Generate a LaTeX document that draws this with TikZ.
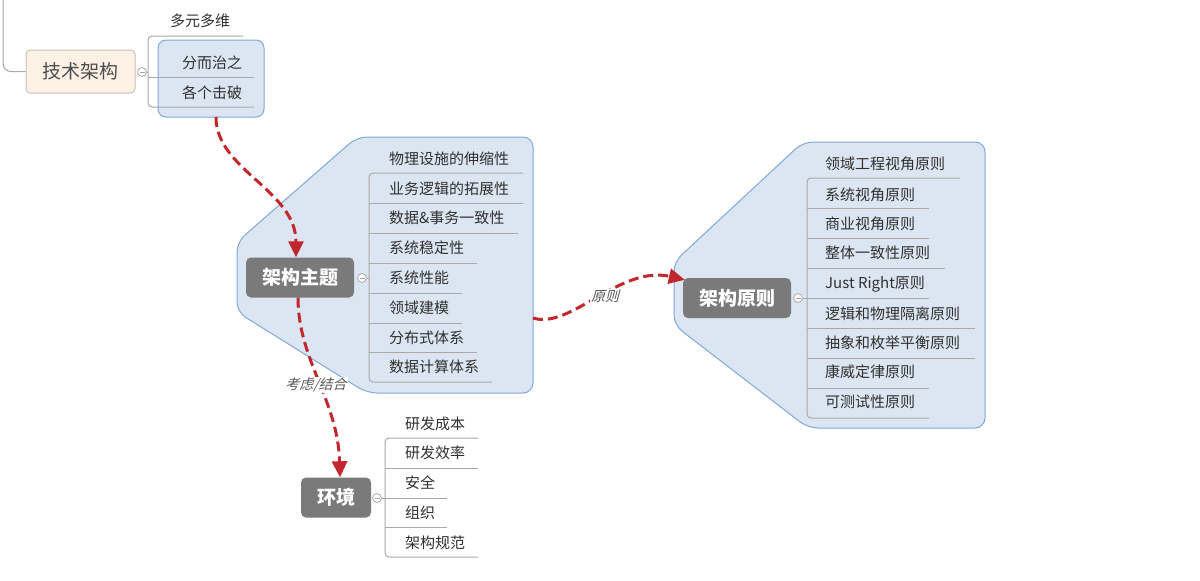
\documentclass[tikz,border=0pt]{standalone}
\usepackage{fontspec}
\setmainfont{Noto Sans CJK SC}
\newfontfamily\slantcjk[FakeSlant=0.25]{Noto Sans CJK SC}
\usetikzlibrary{arrows.meta}
\definecolor{bfill}{HTML}{DCE6F2}
\definecolor{bdraw}{HTML}{80A8D8}
\definecolor{lgray}{HTML}{A8A8A8}
\definecolor{ngray}{HTML}{7A7A7A}
\definecolor{relc}{HTML}{C1272D}
\definecolor{pfill}{HTML}{FDF1E6}
\definecolor{pdraw}{HTML}{CBBFB3}
\definecolor{txt}{HTML}{303030}
\begin{document}
\begin{tikzpicture}[x=1pt,y=-1pt,
 item/.style={anchor=west, inner sep=0pt, text=txt, font=\fontsize{15}{15}\selectfont},
 topic/.style={rounded corners=5pt, fill=ngray, text=white, font=\fontsize{19}{19}\selectfont\bfseries, minimum height=40pt, minimum width=108pt, inner sep=0pt},
 branch/.style={draw=lgray, line width=1pt},
 boundary/.style={fill=bfill, draw=bdraw, line width=1pt, rounded corners=10pt},
 collapse/.style={circle, draw=lgray, fill=white, minimum size=9pt, inner sep=0pt, line width=0.8pt,
   path picture={\draw[lgray, line width=0.8pt] ([xshift=-2.5pt]path picture bounding box.center) -- ([xshift=2.5pt]path picture bounding box.center);}},
 rel/.style={draw=relc, line width=3pt, dash pattern=on 10pt off 5pt, -{Triangle[length=16pt,width=15pt]}},
 rlabel/.style={font=\slantcjk\fontsize{14}{14}\selectfont, text=black!65, fill=white, inner sep=1pt}]
\useasboundingbox (0,0) rectangle (1200,581);
\fill[white] (0,0) rectangle (1200,581);

% boundaries
\draw[boundary, rounded corners=8pt] (158,40) rectangle (264,117);
\draw[boundary] (357,137) -- (533,137) -- (533,393) -- (367,393) -- (237,312) -- (237,242) -- cycle;
\draw[boundary] (803,142) -- (985,142) -- (985,428) -- (808,428) -- (674,325) -- (674,262) -- cycle;

% ---------- 技术架构 ----------
\coordinate (src) at (3,0);
\node[rounded corners=4pt, fill=pfill, draw=pdraw, line width=1pt, text=black!70,
  font=\fontsize{19}{19}\selectfont, minimum width=109pt, minimum height=43pt, inner sep=0pt] (t0) at (80.5,71.5) {技术架构};
\draw[branch, rounded corners=8pt] (src) |- (t0.west);
\node[collapse] (c0) at (142,72) {};
\draw[branch, rounded corners=4pt] (243,36) -- (148,36) -- (148,107) -- (254,107);
\draw[branch] (148,77) -- (254,77);
\draw[branch] (c0) -- (148,72);
\node[item] (a1) at (170,21) {多元多维};
\node[item] (a2) at (182,63) {分而治之};
\node[item] (a3) at (182,93) {各个击破};

% ---------- 架构主题 ----------
\node[topic] (t1) at (300,277.5) {架构主题};
\node[collapse] (c1) at (362,278) {};
\draw[branch, rounded corners=4pt] (523,173) -- (369,173) -- (369,382) -- (492,382);
\draw[branch] (369,203) -- (523,203);
\draw[branch] (369,233) -- (518,233);
\draw[branch] (369,263) -- (477,263);
\draw[branch] (369,293) -- (462,293);
\draw[branch] (369,323) -- (462,323);
\draw[branch] (369,352) -- (477,352);
\draw[branch] (c1) -- (369,278);
\node[item] (b1) at (389,159) {物理设施的伸缩性};
\node[item] (b2) at (389,189) {业务逻辑的拓展性};
\node[item] (b3) at (389,218) {数据\&事务一致性};
\node[item] (b4) at (389,248) {系统稳定性};
\node[item] (b5) at (389,278) {系统性能};
\node[item] (b6) at (389,308) {领域建模};
\node[item] (b7) at (389,338) {分布式体系};
\node[item] (b8) at (389,367) {数据计算体系};

% ---------- 架构原则 ----------
\node[topic] (t2) at (737,298) {架构原则};
\node[collapse] (c2) at (798,298) {};
\draw[branch, rounded corners=4pt] (960,178) -- (807,178) -- (807,418) -- (929,418);
\draw[branch] (807,208) -- (929,208);
\draw[branch] (807,238) -- (929,238);
\draw[branch] (807,268) -- (945,268);
\draw[branch] (c2) -- (929,298);
\draw[branch] (807,328) -- (975,328);
\draw[branch] (807,358) -- (975,358);
\draw[branch] (807,388) -- (929,388);
\node[item] (p1) at (825,164) {领域工程视角原则};
\node[item] (p2) at (825,195) {系统视角原则};
\node[item] (p3) at (825,224) {商业视角原则};
\node[item] (p4) at (825,253) {整体一致性原则};
\node[item] (p5) at (825,284) {Just Right原则};
\node[item] (p6) at (825,314) {逻辑和物理隔离原则};
\node[item] (p7) at (825,343) {抽象和枚举平衡原则};
\node[item] (p8) at (825,372) {康威定律原则};
\node[item] (p9) at (825,402) {可测试性原则};

% ---------- 环境 ----------
\node[topic, minimum width=70pt] (t3) at (336,497.5) {环境};
\node[collapse] (c3) at (377,498) {};
\draw[branch, rounded corners=4pt] (478,438) -- (385,438) -- (385,557) -- (478,557);
\draw[branch] (385,468) -- (478,468);
\draw[branch] (c3) -- (447,498);
\draw[branch] (385,527) -- (447,527);
\node[item] (e1) at (405,424) {研发成本};
\node[item] (e2) at (405,453) {研发效率};
\node[item] (e3) at (405,483) {安全};
\node[item] (e4) at (405,513) {组织};
\node[item] (e5) at (405,543) {架构规范};

% ---------- relationships ----------
\coordinate (g0b) at (216,117);
\coordinate (g1e) at (533,318);
\draw[rel] (g0b) .. controls (216,170) and (296,190) .. ([xshift=-4pt]t1.north);
\draw[rel] ([xshift=-2pt]t1.south) .. controls (298,360) and (338,400) .. ([xshift=4pt]t3.north);
\draw[rel] (g1e) .. controls (570,330) and (620,265) .. ([xshift=2pt,yshift=-2pt]t2.north west);
\node[rlabel] (l1) at (316,385) {考虑/结合};
\node[rlabel] (l2) at (605,296) {原则};
\end{tikzpicture}
\end{document}
